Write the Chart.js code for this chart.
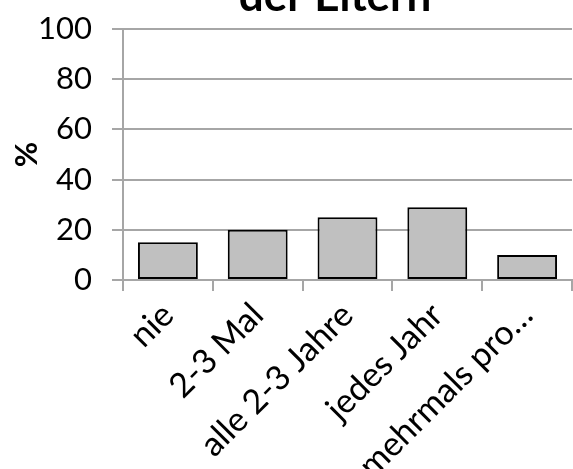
<!DOCTYPE html>
<html>
<head>
<meta charset="utf-8">
<script src="https://cdn.jsdelivr.net/npm/chart.js@4"></script>
<style>
  html, body { margin: 0; padding: 0; background: #fff; }
  #wrap { width: 573px; height: 469px; position: relative; }
</style>
</head>
<body>
<div id="wrap"><canvas id="myChart" width="573" height="469"></canvas></div>
<script>
const titleText = "der Eltern";
const categories = ["nie", "2-3 Mal", "alle 2-3 Jahre", "jedes Jahr", "mehrmals pro…"];
const percentValues = [15, 20, 25, 29, 10];
const yTitle = "%";

const gridColor = "#a6a6a6";
const fontFamily = "Lato, 'Open Sans', sans-serif";

// title is cut off at the top in the original, draw it over the plot centre
const cutTitle = {
  id: "cutTitle",
  afterDraw(chart) {
    const c = chart.ctx;
    c.save();
    c.font = "bold 44px " + fontFamily;
    c.fillStyle = "#000";
    c.textAlign = "center";
    c.textBaseline = "alphabetic";
    c.fillText(titleText, 335, 11);
    c.restore();
  },
};

document.addEventListener("DOMContentLoaded", () => {
  const ctx = document.getElementById("myChart").getContext("2d");
  new Chart(ctx, {
    type: "bar",
    data: {
      labels: categories,
      datasets: [
        {
          data: percentValues,
          backgroundColor: "#c0c0c0",
          borderColor: "#000",
          borderWidth: 2,
          borderSkipped: false,
          barPercentage: 0.667,
          categoryPercentage: 1,
        },
      ],
    },
    options: {
      responsive: false,
      animation: false,
      layout: { padding: { top: 29, right: 1, left: 0, bottom: 0 } },
      plugins: {
        legend: { display: false },
        tooltip: { enabled: false },
      },
      scales: {
        x: {
          afterFit: (scale) => {
            scale.height = 189;
            scale.paddingLeft = 0;
            scale.paddingRight = 0;
          },
          grid: {
            drawOnChartArea: false,
            tickLength: 11,
            color: gridColor,
            lineWidth: 2,
          },
          border: { color: gridColor, width: 2 },
          ticks: {
            color: "#000",
            font: { family: fontFamily, size: 34 },
            minRotation: 45,
            maxRotation: 45,
            autoSkip: false,
            padding: 4,
          },
        },
        y: {
          min: 0,
          max: 100,
          afterFit: (scale) => {
            scale.width = 123;
            scale.paddingTop = 0;
            scale.paddingBottom = 0;
          },
          grid: {
            tickLength: 11,
            color: gridColor,
            lineWidth: 2,
          },
          border: { color: gridColor, width: 2 },
          ticks: {
            stepSize: 20,
            color: "#000",
            font: { family: fontFamily, size: 31 },
            padding: 20,
          },
          title: {
            display: true,
            text: yTitle,
            color: "#000",
            font: { family: fontFamily, size: 31, weight: "bold" },
            padding: { top: 8, bottom: 6 },
          },
        },
      },
    },
    plugins: [cutTitle],
  });
});
</script>
</body>
</html>
